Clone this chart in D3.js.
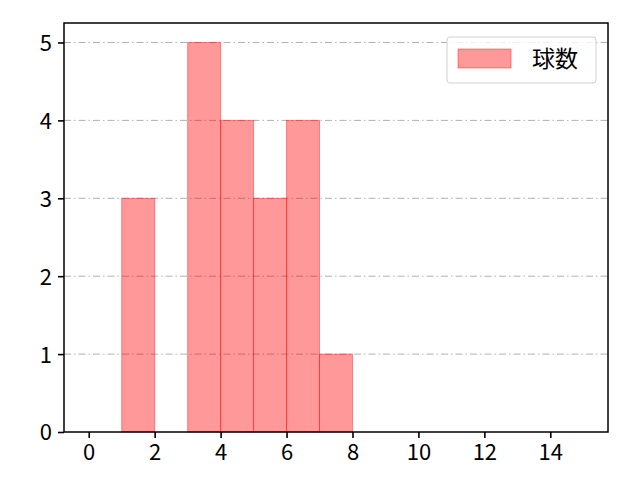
<!DOCTYPE html>
<html><head><meta charset="utf-8">
<script src="https://cdn.jsdelivr.net/npm/d3@7"></script>
<style>body{margin:0;background:#fff}svg{display:block}text{font-family:"Noto Sans CJK JP","Noto Sans",sans-serif}</style>
</head><body>
<script>
const binStarts = [1, 2, 3, 4, 5, 6, 7];
const counts = [3, 0, 5, 4, 3, 4, 1];
const binWidth = 1;
const xTicks = [0, 2, 4, 6, 8, 10, 12, 14];
const yTicks = [0, 1, 2, 3, 4, 5];
const seriesName = "球数";

const W = 640, H = 480;
const m = {l: 64, r: 608, t: 23, b: 432};
const svg = d3.select("body").append("svg").attr("width", W).attr("height", H);
const x = d3.scaleLinear().domain([-0.75, 15.75]).range([m.l, m.r]);
const y = d3.scaleLinear().domain([0, 5.25]).range([m.b, m.t]);

// grid
svg.append("g").selectAll("line").data(yTicks.filter(d => d > 0)).join("line")
  .attr("x1", m.l).attr("x2", m.r).attr("y1", d => y(d)).attr("y2", d => y(d))
  .attr("stroke", "#b0b0b0").attr("stroke-width", 1).attr("stroke-dasharray", "7,3,1.5,3");

// bars
svg.append("g").selectAll("rect").data(binStarts.map((s, i) => ({s, c: counts[i]})).filter(d => d.c > 0)).join("rect")
  .attr("x", d => x(d.s)).attr("width", d => x(d.s + binWidth) - x(d.s))
  .attr("y", d => y(d.c)).attr("height", d => y(0) - y(d.c))
  .attr("fill", "rgba(255,0,0,0.4)").attr("stroke", "rgba(255,0,0,0.4)").attr("stroke-width", 1);

// axes
const xa = svg.append("g").attr("transform", `translate(0,${m.b})`)
  .call(d3.axisBottom(x).tickValues(xTicks).tickFormat(d3.format("d")).tickSize(6).tickPadding(3));
const ya = svg.append("g").attr("transform", `translate(${m.l},0)`)
  .call(d3.axisLeft(y).tickValues(yTicks).tickFormat(d3.format("d")).tickSize(6).tickPadding(6));
[xa, ya].forEach(a => {
  a.select(".domain").remove();
  a.selectAll("line").attr("stroke", "#000").attr("stroke-width", 1.6);
  a.selectAll("text").style("font-size", "22px").attr("fill", "#000");
});
xa.selectAll("text").attr("dy", "0.85em");
ya.selectAll("text").attr("dy", "0.36em");
svg.append("rect").attr("x", m.l).attr("y", m.t).attr("width", m.r - m.l).attr("height", m.b - m.t)
  .attr("fill", "none").attr("stroke", "#000").attr("stroke-width", 1.5);

// legend
const lg = svg.append("g");
lg.append("rect").attr("x", 447).attr("y", 37).attr("width", 149).attr("height", 46).attr("rx", 3)
  .attr("fill", "rgba(255,255,255,0.8)").attr("stroke", "#d0d0d0").attr("stroke-width", 1);
lg.append("rect").attr("x", 458).attr("y", 49).attr("width", 53).attr("height", 19)
  .attr("fill", "rgba(255,0,0,0.4)").attr("stroke", "rgba(255,0,0,0.4)");
lg.append("text").attr("x", 532).attr("y", 59).attr("dy", "0.36em").style("font-size", "23px").text(seriesName);
</script>
</body></html>
